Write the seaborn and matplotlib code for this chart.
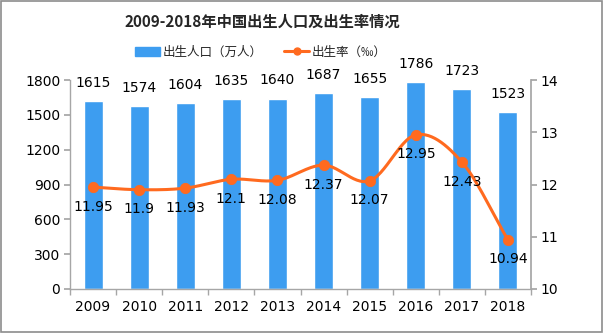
import numpy as np
import pandas as pd
import matplotlib
matplotlib.use("Agg")
import matplotlib.pyplot as plt
import seaborn as sns
from matplotlib.lines import Line2D
from matplotlib.patches import Patch, Rectangle

years = ["2009", "2010", "2011", "2012", "2013", "2014", "2015", "2016", "2017", "2018"]
births = [1615, 1574, 1604, 1635, 1640, 1687, 1655, 1786, 1723, 1523]
rates = [11.95, 11.9, 11.93, 12.1, 12.08, 12.37, 12.07, 12.95, 12.43, 10.94]
rate_labels = ["11.95", "11.9", "11.93", "12.1", "12.08", "12.37", "12.07", "12.95", "12.43", "10.94"]

BAR = "#3d9df0"
ORANGE = "#ff6a1f"
GREY = "#a6a6a6"

sns.set_theme(style="white")
plt.rcParams['font.family'] = ['DejaVu Sans', 'Noto Sans CJK SC']
plt.rcParams['axes.unicode_minus'] = False

fig = plt.figure(figsize=(6.03, 3.33), dpi=100)
ax = fig.add_axes([70/603, 1-289/333, (531-70)/603, (289-80)/333])

df = pd.DataFrame({"year": years, "births": births, "rate": rates})
sns.barplot(data=df, x="year", y="births", color=BAR, width=0.41, ax=ax, saturation=1)
ax.set_ylim(0, 1800)
ax.set_yticks(np.arange(0, 1801, 300))
ax.set_xlim(-0.5, len(years) - 0.5)
ax.set_xlabel("")
ax.set_ylabel("")
for i, v in enumerate(births):
    ax.annotate(str(v), (i, v), xytext=(0, 8), textcoords="offset points",
                ha="center", va="bottom", fontsize=10, color="#000000", clip_on=False)

for s in ["top", "right"]:
    ax.spines[s].set_visible(False)
for s in ["left", "bottom"]:
    ax.spines[s].set_color(GREY)
    ax.spines[s].set_linewidth(1)
ax.tick_params(axis="y", which="both", left=True, length=4, color=GREY, labelsize=10, labelcolor="#000000", pad=3)
ax.tick_params(axis="x", which="major", length=0, labelsize=10, labelcolor="#000000", pad=8)
ax.set_xticks(np.arange(-0.5, len(years), 1), minor=True)
ax.tick_params(axis="x", which="minor", bottom=True, length=4, color=GREY)

ax2 = ax.twinx()
xs = np.arange(len(years))
# smooth display curve (Catmull-Rom through data points)
p = np.array(rates)
pp = np.concatenate([[2*p[0]-p[1]], p, [2*p[-1]-p[-2]]])
cx, cy = [], []
for k in range(len(p) - 1):
    t = np.linspace(0, 1, 30)
    p0, p1, p2, p3 = pp[k], pp[k+1], pp[k+2], pp[k+3]
    y = 0.5*((2*p1) + (-p0+p2)*t + (2*p0-5*p1+4*p2-p3)*t**2 + (-p0+3*p1-3*p2+p3)*t**3)
    cx.extend(k + t)
    cy.extend(y)
ax2.plot(cx, cy, color=ORANGE, lw=2.2, zorder=3)
sns.scatterplot(x=xs, y=rates, color=ORANGE, s=55, edgecolor=ORANGE, ax=ax2, zorder=4)
ax2.set_ylim(10, 14)
ax2.set_yticks([10, 11, 12, 13, 14])
for i, (v, lab) in enumerate(zip(rates, rate_labels)):
    ax2.annotate(lab, (i, v), xytext=(0, -9), textcoords="offset points",
                 ha="center", va="top", fontsize=10, color="#000000")
for s in ["top", "left", "bottom"]:
    ax2.spines[s].set_visible(False)
ax2.spines["right"].set_color(GREY)
ax2.tick_params(axis="y", right=True, length=4, color=GREY, labelsize=10, labelcolor="#000000", pad=3)
ax2.set_ylabel("")

fig.text(262/603, 1-22/333, "2009-2018年中国出生人口及出生率情况", ha="center", va="center",
         fontsize=11, fontweight="bold", family=["Noto Sans CJK SC", "DejaVu Sans"])

handles = [Patch(facecolor=BAR, edgecolor=BAR),
           Line2D([0], [0], color=ORANGE, lw=2.2, marker="o", markersize=5)]
fig.legend(handles, ["出生人口（万人）", "出生率（‰）"], loc="center",
           bbox_to_anchor=(261/603, 1-52/333), ncol=2, frameon=False,
           prop={"family": ["Noto Sans CJK SC", "DejaVu Sans"], "size": 9},
           handlelength=2.0, handleheight=0.7, columnspacing=1.7, handletextpad=0.2)

fig.patches.append(Rectangle((0.001, 0.002), 0.997, 0.995, transform=fig.transFigure,
                             fill=False, edgecolor="#8c8c8c", lw=1.2))

fig.savefig("out.png", dpi=100)
